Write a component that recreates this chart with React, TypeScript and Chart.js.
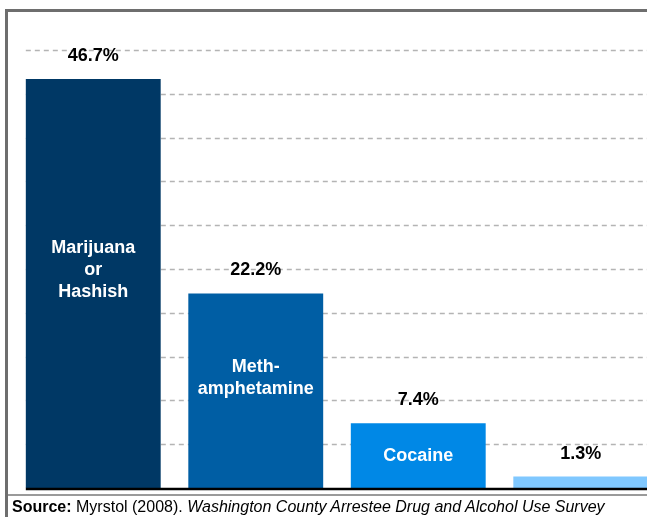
import React, { useEffect, useRef } from "react";
import { Chart, registerables } from "chart.js";

Chart.register(...registerables);

const categories: string[][] = [["Marijuana", "or", "Hashish"], ["Meth-", "amphetamine"], ["Cocaine"], [""]];
const values: number[] = [46.7, 22.2, 7.4, 1.3];
const valueLabels: string[] = ["46.7%", "22.2%", "7.4%", "1.3%"];
const barColors: string[] = ["#003865", "#005EA4", "#0088E6", "#80C8FF"];
const gridValues: number[] = [5, 10, 15, 20, 25, 30, 35, 40, 45, 50];

const FONT = "'Liberation Sans', Arial, Helvetica, sans-serif";

const overlayPlugin = {
  id: "overlay",
  beforeDatasetsDraw(chart: any) {
    const ctx = chart.ctx;
    const y = chart.scales.y;
    const bar0 = chart.getDatasetMeta(0).data[0].getProps(["x", "width"], true);
    const left = bar0.x - bar0.width / 2;
    ctx.save();
    ctx.strokeStyle = "#b4b4b4";
    ctx.lineWidth = 1.3;
    ctx.setLineDash([5, 4]);
    gridValues.forEach((v) => {
      const py = Math.round(y.getPixelForValue(v)) + 0.5;
      ctx.beginPath();
      ctx.moveTo(left, py);
      ctx.lineTo(chart.width, py);
      ctx.stroke();
    });
    ctx.restore();
  },
  afterDatasetsDraw(chart: any) {
    const ctx = chart.ctx;
    const y = chart.scales.y;
    const meta = chart.getDatasetMeta(0);
    const bar0 = meta.data[0].getProps(["x", "width"], true);
    const left = bar0.x - bar0.width / 2;
    const base = y.getPixelForValue(0);
    ctx.save();
    // axis line
    ctx.strokeStyle = "#000";
    ctx.lineWidth = 2.5;
    ctx.beginPath();
    ctx.moveTo(left, base + 1);
    ctx.lineTo(chart.width, base + 1);
    ctx.stroke();
    // labels
    ctx.textAlign = "center";
    ctx.textBaseline = "middle";
    meta.data.forEach((el: any, i: number) => {
      const p = el.getProps(["x", "y", "base"], true);
      ctx.fillStyle = "#000";
      ctx.font = `bold 18px ${FONT}`;
      ctx.fillText(valueLabels[i], p.x, p.y - 23);
      const lines = categories[i];
      const lh = 22;
      const mid = (p.y + p.base) / 2 - (lines.length > 1 ? 13 : 0);
      const start = mid - ((lines.length - 1) * lh) / 2;
      ctx.fillStyle = "#fff";
      lines.forEach((t, j) => {
        if (t) ctx.fillText(t, p.x, start + j * lh);
      });
    });
    ctx.restore();
  },
};

export default function App() {
  const ref = useRef<HTMLCanvasElement | null>(null);
  useEffect(() => {
    if (!ref.current) return;
    const chart = new Chart(ref.current, {
      type: "bar",
      data: {
        labels: categories.map((c) => c.join(" ")),
        datasets: [
          {
            data: values,
            backgroundColor: barColors,
            borderWidth: 0,
            barPercentage: 0.83,
            categoryPercentage: 1,
          },
        ],
      },
      options: {
        responsive: false,
        animation: false,
        devicePixelRatio: 1,
        layout: { padding: { left: 12, right: 28, top: 50, bottom: 29 } },
        plugins: { legend: { display: false }, tooltip: { enabled: false }, title: { display: false } },
        scales: {
          x: { display: false },
          y: { display: false, min: 0, max: 50 },
        },
      },
      plugins: [overlayPlugin],
    });
    return () => chart.destroy();
  }, []);

  return (
    <div style={{ position: "fixed", left: 0, top: 0, width: 647, height: 517, overflow: "hidden", background: "#fff" }}>
      <div style={{ position: "absolute", left: 5, top: 9, width: 700, height: 600, borderLeft: "3px solid #6e6e6e", borderTop: "3px solid #6e6e6e" }} />
      <canvas ref={ref} width={690} height={517} style={{ position: "absolute", left: 0, top: 0, width: 690, height: 517 }} />
      <div style={{ position: "absolute", left: 8, top: 494, width: 700, height: 1.5, background: "#9a9a9a" }} />
      <div style={{ position: "absolute", left: 12, top: 497, fontFamily: FONT, fontSize: 16, lineHeight: "19px", color: "#000", whiteSpace: "nowrap" }}>
        <b>Source:</b> Myrstol (2008). <i>Washington County Arrestee Drug and Alcohol Use Survey</i>
      </div>
    </div>
  );
}
